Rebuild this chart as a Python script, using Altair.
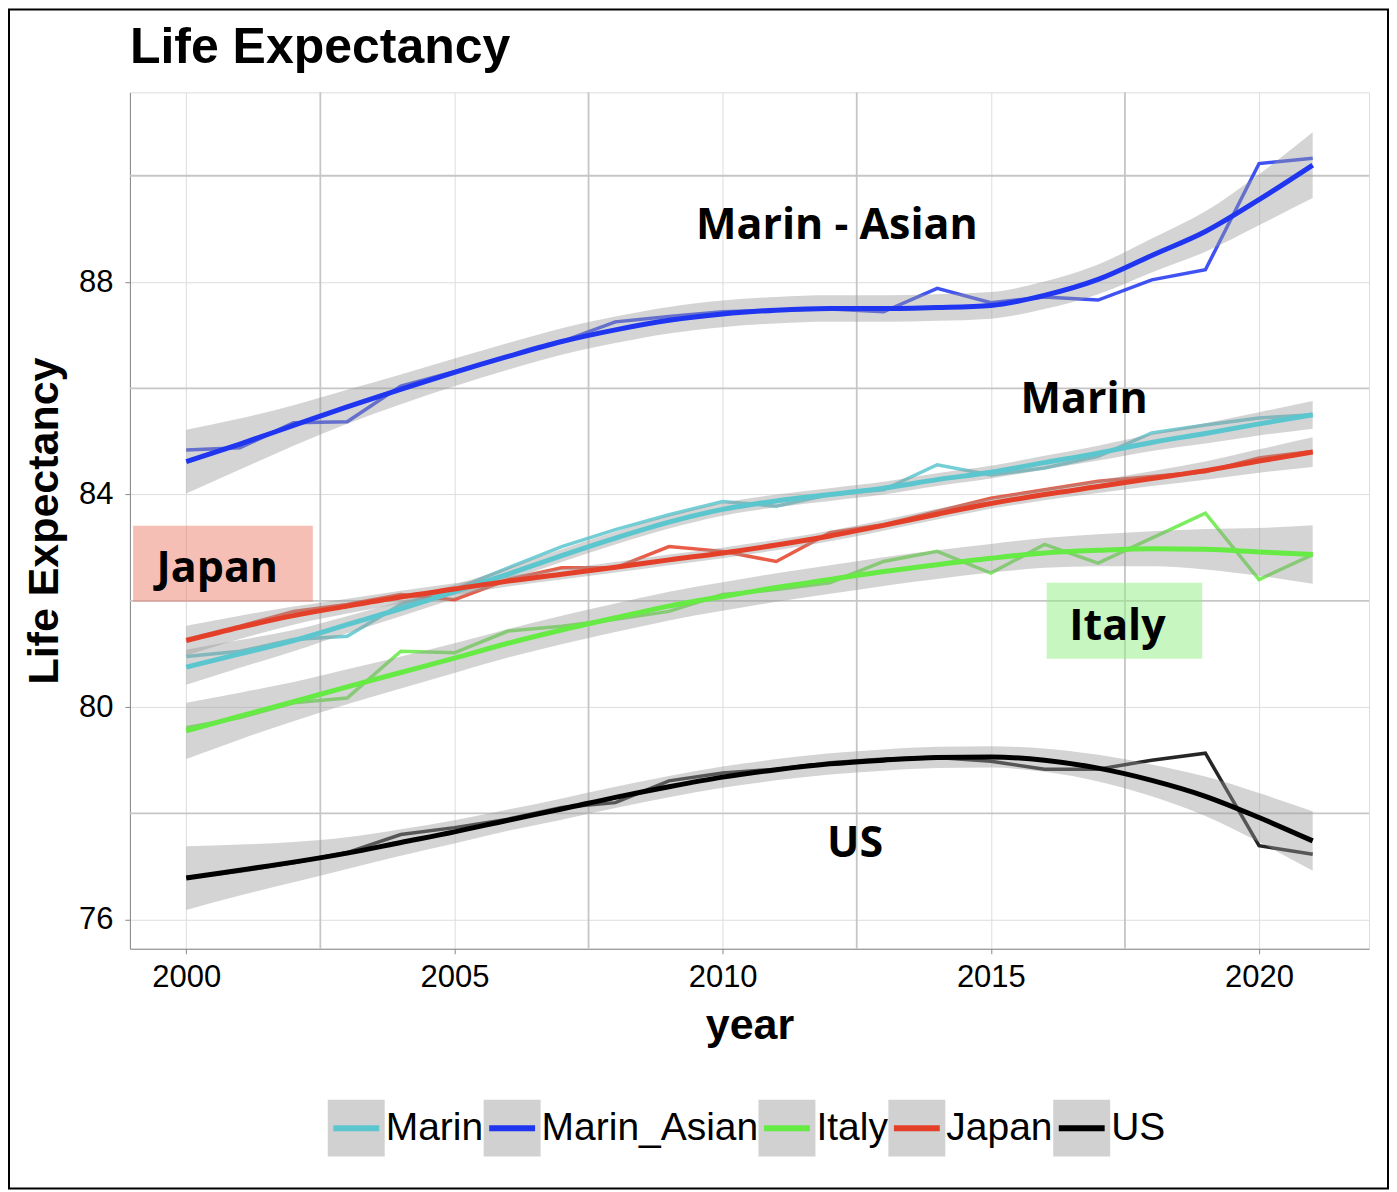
import altair as alt
import pandas as pd

# ---------------- data ----------------
years = list(range(2000, 2022))
series_order = ["Marin", "Marin_Asian", "Italy", "Japan", "US"]
series_colors = ["#5cc6cf", "#1f35f0", "#66ea44", "#e43f28", "#000000"]

# yearly observed values
marin_raw = [80.95, 81.05, 81.27, 81.33, 81.93, 82.21, 82.62, 83.02, 83.34, 83.62, 83.87,
             83.78, 84.00, 84.09, 84.56, 84.37, 84.50, 84.72, 85.16, 85.31, 85.44, 85.50]
marin_asian_raw = [84.84, 84.88, 85.35, 85.37, 86.04, 86.31, 86.60, 86.88, 87.25, 87.35, 87.44,
                   87.47, 87.49, 87.44, 87.88, 87.61, 87.72, 87.66, 88.04, 88.23, 90.23, 90.33]
italy_raw = [79.61, 79.80, 80.08, 80.17, 81.05, 81.02, 81.43, 81.52, 81.65, 81.80, 82.12,
             82.21, 82.34, 82.74, 82.93, 82.52, 83.06, 82.71, 83.18, 83.65, 82.40, 82.87]
japan_raw = [81.27, 81.52, 81.80, 81.93, 82.12, 82.02, 82.40, 82.62, 82.62, 83.02, 82.93,
             82.74, 83.28, 83.43, 83.68, 83.93, 84.09, 84.25, 84.34, 84.43, 84.69, 84.81]
us_raw = [76.79, 76.91, 77.07, 77.26, 77.60, 77.73, 77.89, 78.11, 78.20, 78.61, 78.76,
          78.83, 78.95, 79.02, 79.05, 78.98, 78.83, 78.83, 79.00, 79.13, 77.39, 77.23]

# smoothed (loess) curves as drawn
marin_smooth = [80.75, 81.00, 81.25, 81.55, 81.85, 82.17, 82.50, 82.85, 83.18, 83.48, 83.72,
                83.88, 84.00, 84.12, 84.28, 84.42, 84.60, 84.78, 84.98, 85.15, 85.33, 85.50]
marin_asian_smooth = [84.62, 84.95, 85.30, 85.65, 85.98, 86.30, 86.60, 86.88, 87.10, 87.28, 87.40,
                      87.47, 87.50, 87.50, 87.52, 87.56, 87.75, 88.05, 88.50, 88.95, 89.55, 90.20]
italy_smooth = [79.55, 79.83, 80.10, 80.38, 80.65, 80.92, 81.20, 81.45, 81.68, 81.90, 82.08,
                82.25, 82.40, 82.55, 82.68, 82.80, 82.90, 82.95, 82.98, 82.97, 82.92, 82.87]
japan_smooth = [81.25, 81.50, 81.72, 81.90, 82.07, 82.22, 82.37, 82.50, 82.63, 82.77, 82.90,
                83.05, 83.22, 83.42, 83.63, 83.83, 84.00, 84.15, 84.30, 84.45, 84.63, 84.80]
us_smooth = [76.78, 76.93, 77.08, 77.25, 77.45, 77.65, 77.87, 78.08, 78.30, 78.50, 78.68,
             78.82, 78.93, 79.00, 79.05, 79.06, 79.00, 78.85, 78.62, 78.32, 77.92, 77.48]

# half widths of the grey confidence ribbons
marin_band = [0.33, 0.26, 0.20, 0.16, 0.14, 0.13, 0.12, 0.12, 0.12, 0.12, 0.12,
              0.12, 0.12, 0.12, 0.12, 0.12, 0.13, 0.14, 0.16, 0.19, 0.22, 0.26]
marin_asian_band = [0.60, 0.48, 0.38, 0.32, 0.28, 0.26, 0.25, 0.25, 0.25, 0.25, 0.25,
                    0.25, 0.25, 0.25, 0.25, 0.25, 0.26, 0.28, 0.32, 0.38, 0.48, 0.62]
italy_band = [0.53, 0.44, 0.37, 0.33, 0.30, 0.28, 0.27, 0.27, 0.27, 0.27, 0.27,
              0.27, 0.27, 0.27, 0.27, 0.27, 0.28, 0.30, 0.33, 0.38, 0.45, 0.55]
japan_band = [0.28, 0.22, 0.17, 0.14, 0.12, 0.11, 0.10, 0.10, 0.10, 0.10, 0.10,
              0.10, 0.10, 0.10, 0.10, 0.10, 0.11, 0.12, 0.14, 0.17, 0.22, 0.28]
us_band = [0.60, 0.48, 0.38, 0.30, 0.25, 0.22, 0.20, 0.20, 0.20, 0.20, 0.20,
           0.20, 0.20, 0.20, 0.20, 0.20, 0.22, 0.25, 0.30, 0.37, 0.46, 0.56]

# annotations
note_text = ["Marin - Asian", "Marin", "Japan", "Italy", "US"]
note_year = [2012.13, 2016.74, 2000.58, 2017.36, 2012.47]
note_value = [89.05, 85.78, 82.59, 81.51, 77.42]

box_label = ["Japan", "Italy"]
box_x0 = [1999.01, 2016.04]
box_x1 = [2002.36, 2018.94]
box_y0 = [81.98, 80.91]
box_y1 = [83.41, 82.34]
box_fill = ["#ec7f6e", "#91ed82"]

major_x = [2000, 2005, 2010, 2015, 2020]
minor_x = [2002.5, 2007.5, 2012.5, 2017.5]
major_y = [76, 80, 84, 88]
minor_y = [78, 82, 86, 90]

# ---------------- tables ----------------
raw_lists = [marin_raw, marin_asian_raw, italy_raw, japan_raw, us_raw]
smooth_lists = [marin_smooth, marin_asian_smooth, italy_smooth, japan_smooth, us_smooth]
band_lists = [marin_band, marin_asian_band, italy_band, japan_band, us_band]

rows = []
for s, rv, sv, bv in zip(series_order, raw_lists, smooth_lists, band_lists):
    for y, r, m, b in zip(years, rv, sv, bv):
        rows.append({"series": s, "key": s, "year": y, "raw": r, "smooth": m,
                     "lo": m - b, "hi": m + b})
df = pd.DataFrame(rows)

notes = pd.DataFrame({"text": note_text, "year": note_year, "value": note_value})

FONT = "Liberation Sans"
xscale = alt.Scale(domain=[1998.95, 2022.05], nice=False, zero=False)
yscale = alt.Scale(domain=[75.45, 91.57], nice=False, zero=False)

x_axis = alt.Axis(values=major_x, format="d", title="year", grid=True,
                  labelFontSize=31, titleFontSize=43, titlePadding=12, labelPadding=9)
y_axis = alt.Axis(values=major_y, format="d", title="Life Expectancy", grid=True,
                  labelFontSize=31, titleFontSize=43, titlePadding=12, labelPadding=12)

stroke_scale = alt.Scale(domain=series_order, range=series_colors)
# grey key scale: data-driven domain (ordered by sort) so its legend stays separate
fill_scale = alt.Scale(range=["#999999"] * 5)

# two legends laid exactly on top of each other: grey key boxes + coloured key lines
common_leg = dict(title=None, orient="none", legendX=198, legendY=1008,
                  direction="horizontal", columns=5,
                  labelFont=FONT, labelFontSize=39, labelOffset=1,
                  labelLimit=400)
legend_fill = alt.Legend(symbolType="square", symbolSize=3249, symbolStrokeWidth=0,
                         labelOpacity=0, symbolOpacity=0.45, columnPadding=0,
                         zindex=1, **common_leg)
legend_stroke = alt.Legend(symbolType="M-0.9,0L0.9,0", symbolSize=2601, symbolStrokeWidth=6,
                           symbolOpacity=1, labelColor="#000000", columnPadding=-7,
                           zindex=2, **common_leg)

base = alt.Chart(df)

frame = alt.Chart(pd.DataFrame({"k": [0]})).mark_rect(
    filled=False, color="#000000", strokeWidth=2
).encode(x=alt.value(-121), x2=alt.value(1259), y=alt.value(-83), y2=alt.value(1097))

grid_minor_x = alt.Chart(pd.DataFrame({"v": minor_x})).mark_rule(
    color="#c6c6c6", strokeWidth=1.8
).encode(x=alt.X("v:Q", scale=xscale, axis=x_axis))

grid_minor_y = alt.Chart(pd.DataFrame({"v": minor_y})).mark_rule(
    color="#c6c6c6", strokeWidth=1.8
).encode(y=alt.Y("v:Q", scale=yscale, axis=y_axis))

box_layers = []
for lab, a0, a1, b0, b1, col in zip(box_label, box_x0, box_x1, box_y0, box_y1, box_fill):
    bdf = pd.DataFrame({"x0": [a0], "x1": [a1], "y0": [b0], "y1": [b1]})
    box_layers.append(
        alt.Chart(bdf).mark_rect(color=col, opacity=0.5).encode(
            x=alt.X("x0:Q", scale=xscale, axis=x_axis), x2="x1:Q",
            y=alt.Y("y0:Q", scale=yscale, axis=y_axis), y2="y1:Q")
    )

raw_lines = base.mark_line(strokeWidth=3.5, opacity=0.85).encode(
    x=alt.X("year:Q", scale=xscale, axis=x_axis),
    y=alt.Y("raw:Q", scale=yscale, axis=y_axis),
    stroke=alt.Stroke("series:N", scale=stroke_scale, legend=legend_stroke, sort=series_order),
)

band = base.mark_area(opacity=0.42, interpolate="monotone").encode(
    x=alt.X("year:Q", scale=xscale, axis=x_axis),
    y=alt.Y("lo:Q", scale=yscale, axis=y_axis),
    y2="hi:Q",
    fill=alt.Fill("key:N", scale=fill_scale, legend=legend_fill, sort=series_order),
)

smooth_lines = base.mark_line(strokeWidth=5, interpolate="monotone").encode(
    x=alt.X("year:Q", scale=xscale, axis=x_axis),
    y=alt.Y("smooth:Q", scale=yscale, axis=y_axis),
    stroke=alt.Stroke("series:N", scale=stroke_scale, legend=legend_stroke, sort=series_order),
)

texts = alt.Chart(notes).mark_text(
    font="Open Sans", fontWeight="bold", fontSize=43, color="#000000",
    align="center", baseline="middle"
).encode(
    x=alt.X("year:Q", scale=xscale, axis=x_axis),
    y=alt.Y("value:Q", scale=yscale, axis=y_axis),
    text="text:N",
)

chart = alt.layer(
    frame, grid_minor_x, grid_minor_y, *box_layers, raw_lines, band, smooth_lines, texts
).properties(
    width=1240, height=857, padding=0,
    title=alt.TitleParams("Life Expectancy", anchor="start", frame="group",
                          font=FONT, fontSize=50, fontWeight="bold", color="#000000",
                          baseline="alphabetic", offset=29, dy=134),
).configure_view(
    fill="#fffde6", stroke="#4d4d4d", strokeWidth=2
).configure_axis(
    domain=False, gridColor="#c0c0c0", gridWidth=2.4, gridOpacity=1,
    tickColor="#333333", tickSize=9, tickWidth=2,
    labelFont=FONT, labelColor="#4d4d4d",
    titleFont=FONT, titleFontWeight="bold", titleColor="#000000",
).configure(background="#ffffff")

chart.save("out.html", embed_options={"renderer": "svg", "actions": False})
